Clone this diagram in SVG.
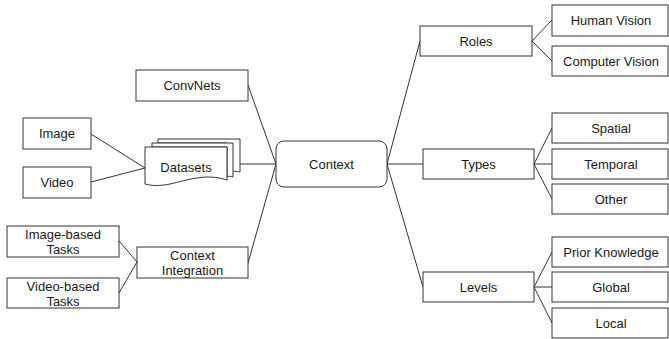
<svg xmlns="http://www.w3.org/2000/svg" width="669" height="339" viewBox="0 0 669 339">
<style>
.n{fill:#fff;stroke:#333;stroke-width:1}
.t{font-family:"Liberation Sans",Arial,sans-serif;font-size:13px;fill:#1a1a1a;text-anchor:middle;dominant-baseline:central}
.c{fill:none;stroke:#333;stroke-width:1}
</style>
<rect width="669" height="339" fill="#fff"/>
<g id="connectors">
<path class="c" d="M248,85 L276,164 M240,164 L276,164 M248,263 L276,164"/>
<path class="c" d="M91,134 L145,168 M91,182 L145,168"/>
<path class="c" d="M119,241 L137,262 M119,293 L137,262"/>
<path class="c" d="M387,164 L420,41 M387,164 L423,164 M387,164 L423,287"/>
<path class="c" d="M532,41 L552,20 M532,41 L552,61"/>
<path class="c" d="M534,164 L552,128 M534,164 L552,164 M534,164 L552,199"/>
<path class="c" d="M534,287 L552,252 M534,287 L552,287 M534,287 L552,323"/>
</g>
<g id="context"><rect class="n" x="276" y="141" width="111" height="46" rx="8"/><text class="t" x="331.5" y="164">Context</text></g>
<g id="convnets"><rect class="n" x="136" y="70" width="112" height="31"/><text class="t" x="192" y="85.5">ConvNets</text></g>
<g id="image"><rect class="n" x="23" y="118" width="68" height="31"/><text class="t" x="57" y="133.5">Image</text></g>
<g id="video"><rect class="n" x="23" y="167" width="68" height="31"/><text class="t" x="57" y="182.5">Video</text></g>
<g id="datasets">
<path class="n" d="M158,139 H240 V172 C236,171 234,171 227,172 V143 H158 Z"/>
<path class="n" d="M152,143 H233 V177 C230,176 229,176 227,177 V147 H152 Z"/>
<path class="n" d="M145,147 H227 V180 C206,173 188,180 170,184 C160,186 152,186 145,184 Z"/>
<text class="t" x="186" y="167">Datasets</text>
</g>
<g id="integration"><rect class="n" x="137" y="247" width="111" height="31"/><text class="t" x="192.5" y="255">Context</text><text class="t" x="192.5" y="270">Integration</text></g>
<g id="imagetasks"><rect class="n" x="7" y="226" width="112" height="31"/><text class="t" x="63" y="234">Image-based</text><text class="t" x="63" y="249">Tasks</text></g>
<g id="videotasks"><rect class="n" x="7" y="278" width="112" height="30"/><text class="t" x="63" y="286">Video-based</text><text class="t" x="63" y="301">Tasks</text></g>
<g id="roles"><rect class="n" x="420" y="26" width="112" height="30"/><text class="t" x="476" y="41">Roles</text></g>
<g id="types"><rect class="n" x="423" y="149" width="111" height="30"/><text class="t" x="478.5" y="164">Types</text></g>
<g id="levels"><rect class="n" x="423" y="272" width="111" height="30"/><text class="t" x="478.5" y="287">Levels</text></g>
<g id="human"><rect class="n" x="552" y="5" width="116" height="31"/><text class="t" x="611" y="20.5">Human Vision</text></g>
<g id="computer"><rect class="n" x="552" y="46" width="116" height="30"/><text class="t" x="611" y="61">Computer Vision</text></g>
<g id="spatial"><rect class="n" x="552" y="113" width="116" height="30"/><text class="t" x="611" y="128">Spatial</text></g>
<g id="temporal"><rect class="n" x="552" y="149" width="116" height="30"/><text class="t" x="611" y="164">Temporal</text></g>
<g id="other"><rect class="n" x="552" y="184" width="116" height="30"/><text class="t" x="611" y="199">Other</text></g>
<g id="prior"><rect class="n" x="552" y="237" width="116" height="30"/><text class="t" x="611" y="252">Prior Knowledge</text></g>
<g id="global"><rect class="n" x="552" y="272" width="116" height="30"/><text class="t" x="611" y="287">Global</text></g>
<g id="local"><rect class="n" x="552" y="308" width="116" height="30"/><text class="t" x="611" y="323">Local</text></g>
</svg>
